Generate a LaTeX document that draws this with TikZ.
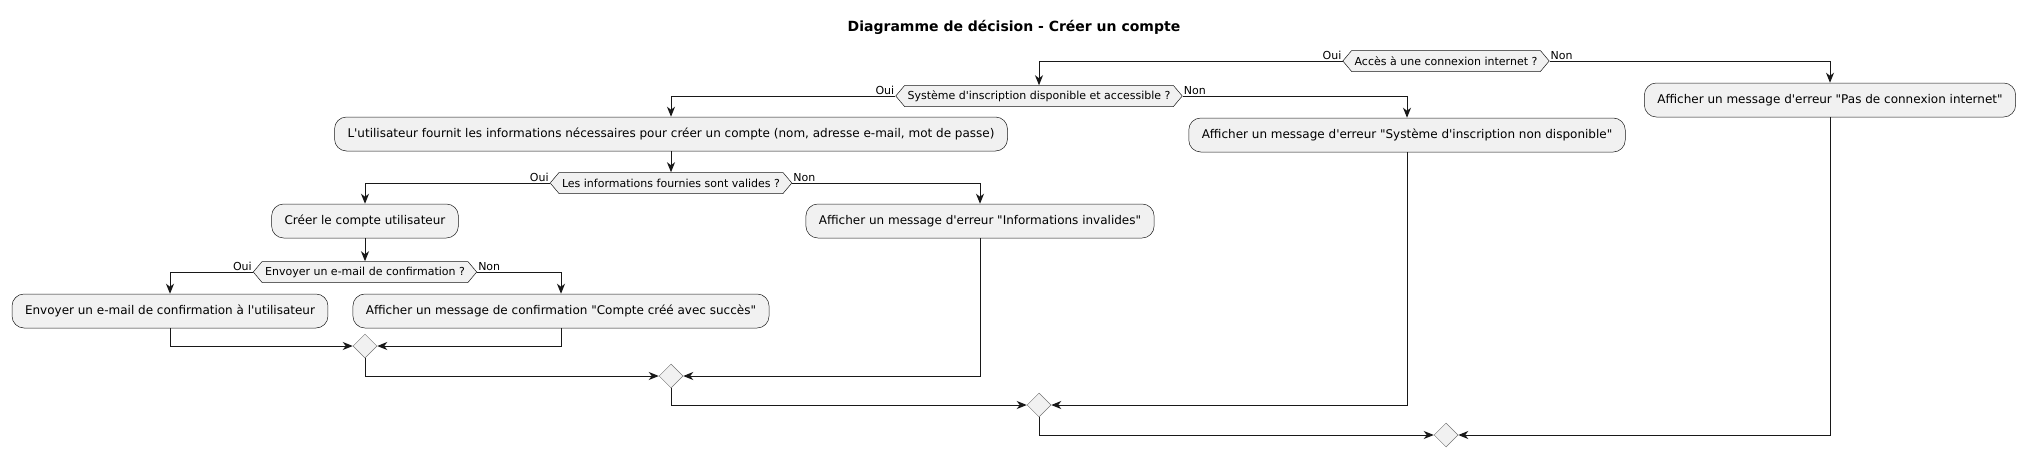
\documentclass[tikz,border=0pt]{standalone}
\usepackage{fontspec}
\setmainfont{DejaVu Sans}[Ligatures=TeXOff]
\usetikzlibrary{shapes, shapes.geometric, shapes.symbols, arrows.meta}
\definecolor{boxgray}{HTML}{F1F1F1}
\definecolor{linedark}{HTML}{181818}

\begin{document}
\begin{tikzpicture}[
  x=1pt, y=-1pt,
  act/.style={draw=linedark, line width=0.5pt, fill=boxgray, rounded corners=12pt, minimum height=34pt, inner xsep=13pt, font=\fontsize{12}{14}\selectfont},
  cond/.style={signal, signal to=west and east, signal pointer angle=100, draw=linedark, line width=0.5pt, fill=boxgray, minimum height=21pt, inner xsep=3pt, inner ysep=2pt, font=\fontsize{11}{13}\selectfont},
  merge/.style={diamond, draw=linedark!60, line width=0.5pt, fill=boxgray, minimum width=24pt, minimum height=24pt, inner sep=0pt},
  lbl/.style={font=\fontsize{11}{13}\selectfont, inner sep=1pt},
  arr/.style={draw=linedark, line width=1pt, -{Stealth[length=10pt, width=8pt, inset=3pt]}}
]
  \useasboundingbox (0,0) rectangle (2031,458);

  \node[font=\bfseries\fontsize{14}{17}\selectfont] (titre) at (1014,27) {Diagramme de décision - Créer un compte};

  % decisions
  \node[cond] (acces) at (1446,61) {Accès à une connexion internet ?};
  \node[cond] (inscr) at (1039,96) {Système d'inscription disponible et accessible ?};
  \node[cond] (valide) at (671,183) {Les informations fournies sont valides ?};
  \node[cond] (mail) at (365,272) {Envoyer un e-mail de confirmation ?};

  % actions
  \node[act] (fournit) at (671,134) {L'utilisateur fournit les informations nécessaires pour créer un compte (nom, adresse e-mail, mot de passe)};
  \node[act] (errsys) at (1407,135) {Afficher un message d'erreur "Système d'inscription non disponible"};
  \node[act] (errnet) at (1830,100) {Afficher un message d'erreur "Pas de connexion internet"};
  \node[act] (creer) at (365,221) {Créer le compte utilisateur};
  \node[act] (errinval) at (980,221) {Afficher un message d'erreur "Informations invalides"};
  \node[act] (envoi) at (170,311) {Envoyer un e-mail de confirmation à l'utilisateur};
  \node[act] (succes) at (561,311) {Afficher un message de confirmation "Compte créé avec succès"};

  % merges
  \node[merge] (fin1) at (365,346) {};
  \node[merge] (fin2) at (671,376) {};
  \node[merge] (fin3) at (1039,405) {};
  \node[merge] (fin4) at (1446,435) {};

  % branch labels
  \node[lbl, anchor=south east] (acces-oui) at (acces.west) {Oui};
  \node[lbl, anchor=south west] (acces-non) at (acces.east) {Non};
  \node[lbl, anchor=south east] (inscr-oui) at (inscr.west) {Oui};
  \node[lbl, anchor=south west] (inscr-non) at (inscr.east) {Non};
  \node[lbl, anchor=south east] (valide-oui) at (valide.west) {Oui};
  \node[lbl, anchor=south west] (valide-non) at (valide.east) {Non};
  \node[lbl, anchor=south east] (mail-oui) at (mail.west) {Oui};
  \node[lbl, anchor=south west] (mail-non) at (mail.east) {Non};

  \draw[arr] (acces.west) -| (inscr.north);
  \draw[arr] (acces.east) -| (errnet.north);
  \draw[arr] (inscr.west) -| (fournit.north);
  \draw[arr] (inscr.east) -| (errsys.north);
  \draw[arr] (fournit.south) -- (valide.north);
  \draw[arr] (valide.west) -| (creer.north);
  \draw[arr] (valide.east) -| (errinval.north);
  \draw[arr] (creer.south) -- (mail.north);
  \draw[arr] (mail.west) -| (envoi.north);
  \draw[arr] (mail.east) -| (succes.north);

  \draw[arr] (envoi.south) |- (fin1.west);
  \draw[arr] (succes.south) |- (fin1.east);
  \draw[arr] (fin1.south) |- (fin2.west);
  \draw[arr] (errinval.south) |- (fin2.east);
  \draw[arr] (fin2.south) |- (fin3.west);
  \draw[arr] (errsys.south) |- (fin3.east);
  \draw[arr] (fin3.south) |- (fin4.west);
  \draw[arr] (errnet.south) |- (fin4.east);
\end{tikzpicture}
\end{document}
